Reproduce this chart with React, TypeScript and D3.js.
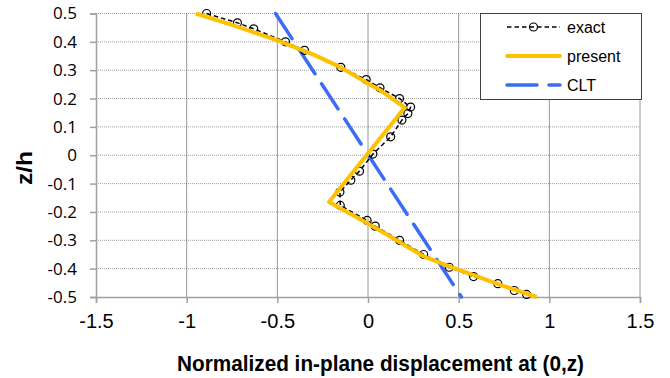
import * as d3 from "d3";
import React, { useRef, useEffect } from "react";

// exact solution (markers + dashed line)
const exactX = [-0.89, -0.72, -0.63, -0.455, -0.35, -0.15, -0.01, 0.066, 0.174, 0.235, 0.22, 0.187, 0.125, 0.027,
  -0.047, -0.095, -0.155, -0.153, -0.005, 0.04, 0.174, 0.307, 0.448, 0.582, 0.716, 0.807, 0.875];
const exactZ = [0.5, 0.467, 0.446, 0.4, 0.37, 0.31, 0.267, 0.238, 0.2, 0.17, 0.147, 0.124, 0.065, 0.004,
  -0.056, -0.088, -0.13, -0.177, -0.23, -0.25, -0.3, -0.35, -0.395, -0.428, -0.453, -0.477, -0.491];

// present theory
const presentX = [-0.95, -0.75, -0.5, -0.3, -0.15, 0, 0.066, 0.203, -0.215, -0.013, 0.174, 0.307, 0.448, 0.587, 0.709, 0.93];
const presentZ = [0.5, 0.46, 0.405, 0.355, 0.31, 0.253, 0.23, 0.168, -0.165, -0.236, -0.306, -0.357, -0.392, -0.424, -0.453, -0.5];

// classical laminate theory
const cltX = [-0.51, 0.515];
const cltZ = [0.5, -0.5];

const xTicks = [-1.5, -1, -0.5, 0, 0.5, 1, 1.5];
const zTicks = [-0.5, -0.4, -0.3, -0.2, -0.1, 0, 0.1, 0.2, 0.3, 0.4, 0.5];

type P = [number, number];
const zip = (xs: number[], zs: number[]): P[] => xs.map((v, i) => [v, zs[i]]);

const App: React.FC = () => {
  const svgRef = useRef<SVGSVGElement>(null);

  useEffect(() => {
    const svg = d3.select(svgRef.current);
    svg.selectAll("*").remove();

    const width = 670;
    const height = 378;
    const left = 96, right = 640, top = 13.5, bottom = 297;

    const x = d3.scaleLinear().domain([-1.5, 1.5]).range([left, right]);
    const y = d3.scaleLinear().domain([-0.5, 0.5]).range([bottom, top]);

    svg.attr("width", width).attr("height", height).attr("viewBox", `0 0 ${width} ${height}`);

    // grid
    svg.append("g")
      .selectAll("line")
      .data(zTicks.filter(d => d !== -0.5))
      .join("line")
      .attr("x1", left).attr("x2", right)
      .attr("y1", d => y(d)).attr("y2", d => y(d))
      .attr("stroke", "#a0a0a0")
      .attr("stroke-dasharray", "1,1");

    svg.append("g")
      .selectAll("line")
      .data(xTicks.filter(d => d !== -1.5))
      .join("line")
      .attr("x1", d => x(d)).attr("x2", d => x(d))
      .attr("y1", top).attr("y2", bottom)
      .attr("stroke", "#303030")
      .attr("stroke-dasharray", "1,1");

    // axes
    const yAxis = svg.append("g")
      .attr("transform", `translate(${left},0)`)
      .call(d3.axisLeft(y).tickValues(zTicks).tickSize(6).tickPadding(13).tickFormat(d => String(d)));
    yAxis.selectAll("line, path").attr("stroke", "#a0a0a0").attr("stroke-width", 1.5);
    yAxis.selectAll("text")
      .attr("font-family", "'Open Sans', sans-serif")
      .attr("font-size", 17)
      .attr("fill", "#000");

    const xAxis = svg.append("g")
      .attr("transform", `translate(0,${bottom})`)
      .call(d3.axisBottom(x).tickValues(xTicks).tickSize(6).tickPadding(11).tickFormat(d => String(d)));
    xAxis.selectAll("line, path").attr("stroke", "#a0a0a0").attr("stroke-width", 1.5);
    xAxis.selectAll("text")
      .attr("font-family", "'Liberation Sans', Arial, sans-serif")
      .attr("font-size", 20)
      .attr("fill", "#000");

    // axis titles
    svg.append("text")
      .attr("transform", "translate(380.5,371) scale(1,1.12)")
      .attr("text-anchor", "middle")
      .attr("font-family", "'Liberation Sans', Arial, sans-serif")
      .attr("font-size", 20)
      .attr("font-weight", "bold")
      .attr("textLength", 407)
      .attr("lengthAdjust", "spacingAndGlyphs")
      .text("Normalized in-plane displacement at (0,z)");

    svg.append("text")
      .attr("transform", "translate(32,168) rotate(-90) scale(1.12,1)")
      .attr("text-anchor", "middle")
      .attr("font-family", "'Liberation Sans', Arial, sans-serif")
      .attr("font-size", 22)
      .attr("font-weight", "bold")
      .text("z/h");

    const line = d3.line<P>().x(d => x(d[0])).y(d => y(d[1]));

    // CLT
    svg.append("path")
      .datum(zip(cltX, cltZ))
      .attr("fill", "none")
      .attr("stroke", "#3B6CF4")
      .attr("stroke-width", 3.5)
      .attr("stroke-dasharray", "30,12")
      .attr("stroke-linecap", "round")
      .attr("d", line);

    // exact
    const exact = zip(exactX, exactZ);
    svg.append("path")
      .datum(exact)
      .attr("fill", "none")
      .attr("stroke", "#000")
      .attr("stroke-width", 1.5)
      .attr("stroke-dasharray", "4.5,3")
      .attr("d", line);

    svg.append("g")
      .selectAll("circle")
      .data(exact)
      .join("circle")
      .attr("cx", d => x(d[0]))
      .attr("cy", d => y(d[1]))
      .attr("r", 4)
      .attr("fill", "none")
      .attr("stroke", "#000")
      .attr("stroke-width", 1.2);

    // present
    svg.append("path")
      .datum(zip(presentX, presentZ))
      .attr("fill", "none")
      .attr("stroke", "#FFC000")
      .attr("stroke-width", 4)
      .attr("stroke-linejoin", "round")
      .attr("d", line);

    // legend
    const lg = svg.append("g");
    lg.append("rect")
      .attr("x", 480.5).attr("y", 13.5).attr("width", 161).attr("height", 86)
      .attr("fill", "#fff").attr("stroke", "#404040");

    const entries = [
      { name: "exact", y: 27 },
      { name: "present", y: 56 },
      { name: "CLT", y: 85 },
    ];
    const lx0 = 507, lx1 = 560;
    lg.append("line")
      .attr("x1", lx0).attr("x2", lx1).attr("y1", entries[0].y).attr("y2", entries[0].y)
      .attr("stroke", "#000").attr("stroke-width", 1.5).attr("stroke-dasharray", "4.5,3");
    lg.append("circle")
      .attr("cx", (lx0 + lx1) / 2).attr("cy", entries[0].y).attr("r", 4)
      .attr("fill", "none").attr("stroke", "#000").attr("stroke-width", 1.2);
    lg.append("line")
      .attr("x1", lx0).attr("x2", lx1).attr("y1", entries[1].y).attr("y2", entries[1].y)
      .attr("stroke", "#FFC000").attr("stroke-width", 4).attr("stroke-linecap", "round");
    lg.append("line")
      .attr("x1", lx0).attr("x2", lx1).attr("y1", entries[2].y).attr("y2", entries[2].y)
      .attr("stroke", "#3B6CF4").attr("stroke-width", 3.5)
      .attr("stroke-dasharray", "30,12").attr("stroke-linecap", "round");

    lg.selectAll("text")
      .data(entries)
      .join("text")
      .attr("x", 567)
      .attr("y", d => d.y)
      .attr("dy", "0.36em")
      .attr("font-family", "'Liberation Sans', Arial, sans-serif")
      .attr("font-size", 16)
      .text(d => d.name);
  }, []);

  return (
    <div style={{ position: "absolute", left: 0, top: 0 }}>
      <svg ref={svgRef} style={{ display: "block", background: "#fff" }}></svg>
    </div>
  );
};

export default App;
